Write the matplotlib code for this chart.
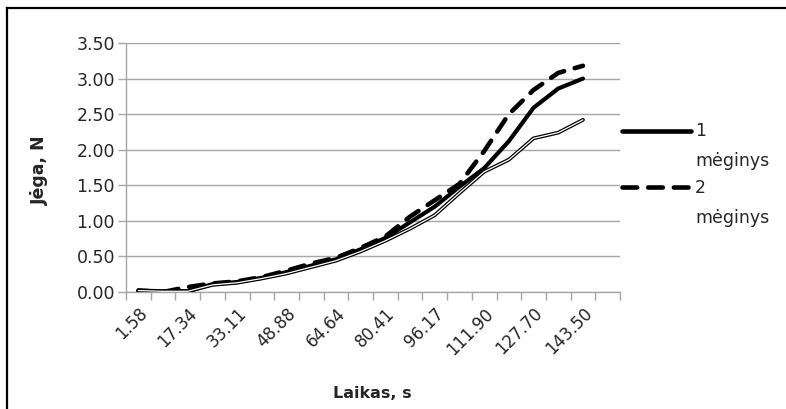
import numpy as np
import matplotlib
matplotlib.use("Agg")
from matplotlib import pyplot as plt
from matplotlib.lines import Line2D

plt.rcParams['font.family'] = ['DejaVu Sans']

# time categories (s); the last one has no readings
laikas = ['1.58', '9.46', '17.34', '25.23', '33.11', '40.99', '48.88', '56.76',
          '64.64', '72.52', '80.41', '88.29', '96.17', '104.05', '111.90',
          '119.80', '127.70', '135.60', '143.50', '151.40']

# force readings, N
meginys1 = [0.02, 0.01, 0.01, 0.11, 0.14, 0.20, 0.28, 0.37, 0.46, 0.60,
            0.76, 0.98, 1.20, 1.48, 1.74, 2.12, 2.59, 2.86, 3.00]
meginys2 = [0.02, 0.00, 0.07, 0.12, 0.15, 0.21, 0.30, 0.40, 0.48, 0.62,
            0.78, 1.06, 1.29, 1.52, 1.98, 2.50, 2.84, 3.08, 3.18]
meginys3 = [0.02, 0.01, 0.01, 0.10, 0.13, 0.19, 0.26, 0.35, 0.44, 0.57,
            0.72, 0.89, 1.08, 1.39, 1.69, 1.86, 2.16, 2.24, 2.42]

grid_col = '#a6a6a6'
txt_col = '#262626'

fig = plt.figure(figsize=(7.86, 4.09), dpi=100)
ax = fig.add_axes([126/786, 1-292/409, 494/786, 249/409])

x = np.arange(len(meginys1))
ax.plot(x, meginys1, color='black', lw=3.0, solid_capstyle='round',
        solid_joinstyle='round', zorder=3)
ax.plot(x, meginys2, color='black', lw=3.3, linestyle=(0, (3.2, 2.4)),
        dash_capstyle='round', zorder=3)
# double (compound) line for the third sample
ax.plot(x, meginys3, color='black', lw=2.7, solid_capstyle='round',
        solid_joinstyle='round', zorder=4)
ax.plot(x, meginys3, color='white', lw=0.9, solid_capstyle='round',
        solid_joinstyle='round', zorder=5)

ax.set_xlim(-0.5, len(laikas) - 0.5)
ax.set_ylim(0, 3.5)
ax.set_yticks(np.arange(0, 3.51, 0.5))
ax.set_yticklabels(['%.2f' % v for v in np.arange(0, 3.51, 0.5)], fontsize=12.5,
                   color=txt_col)
ax.yaxis.grid(True, color=grid_col, lw=1.0)
ax.set_axisbelow(True)
ax.tick_params(axis='y', length=6, color=grid_col, width=1.0, pad=2)

ax.set_xticks(np.arange(-0.5, len(laikas)), minor=True)
ax.set_xticks(np.arange(0, len(laikas), 2))
ax.set_xticklabels(laikas[::2], rotation=45, ha='right', rotation_mode='anchor',
                   fontsize=12, color=txt_col)
ax.tick_params(axis='x', which='major', length=0, pad=9)
ax.tick_params(axis='x', which='minor', length=6, color=grid_col, width=1.0)

for side in ['top', 'right']:
    ax.spines[side].set_visible(False)
for side in ['left', 'bottom']:
    ax.spines[side].set_color(grid_col)
    ax.spines[side].set_linewidth(1.0)

fig.text(40/786, 1-170/409, 'Jėga, N', rotation=90, ha='center', va='center',
         fontsize=12.5, fontweight='bold', color=txt_col)
fig.text(372/786, 1-393/409, 'Laikas, s', ha='center', va='center',
         fontsize=11.5, fontweight='bold', color=txt_col)

# legend drawn by hand: line, number, wrapped word
def legend_entry(y, style, num):
    fig.add_artist(Line2D([622/786, 691/786], [1-y/409, 1-y/409], color='black',
                          lw=3.3, linestyle=style, solid_capstyle='round',
                          dash_capstyle='round'))
    fig.text(695/786, 1-(y+1)/409, num, ha='left', va='center', fontsize=12.5,
             color=txt_col)
    fig.text(695/786, 1-(y+31)/409, 'mėginys', ha='left', va='center',
             fontsize=12.5, color=txt_col)

legend_entry(130.5, '-', '1')
legend_entry(187, (0, (3.2, 2.4)), '2')

# outer frame (left and top edges)
fig.add_artist(Line2D([7/786, 7/786], [0, 1-8/409], color='black', lw=1.6))
fig.add_artist(Line2D([7/786, 1], [1-8/409, 1-8/409], color='black', lw=1.6))

fig.savefig('out.png', dpi=100)
